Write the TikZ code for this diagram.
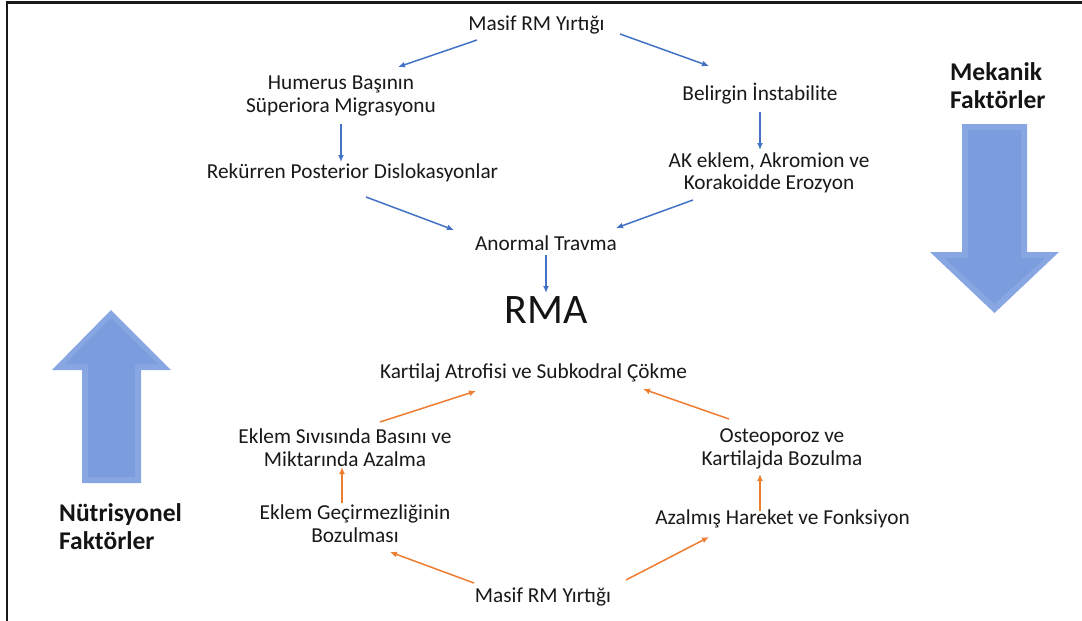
\documentclass[tikz,border=0pt]{standalone}
\usepackage{fontspec}
\setmainfont{Carlito}
\usetikzlibrary{calc,arrows.meta}
\definecolor{bl}{HTML}{4472C4}
\definecolor{orng}{HTML}{ED7D31}
\definecolor{bigout}{HTML}{87A6E2}
\definecolor{bigin}{HTML}{7C9DDD}
\tikzset{
  txt/.style={inner sep=0pt, font=\fontsize{21.3}{22.5}\selectfont, align=center, text=black!90},
  big/.style={inner sep=0pt, font=\fontsize{25.5}{28}\selectfont\bfseries, align=left, text=black!92},
  barr/.style={draw=bl, line width=1.5pt, -{Latex[length=7pt,width=6pt]}},
  oarr/.style={draw=orng, line width=1.5pt, -{Latex[length=7pt,width=6pt]}},
}
\begin{document}
\begin{tikzpicture}[x=1pt,y=-1pt]
\useasboundingbox (0,0) rectangle (1082,621);
\fill[white] (0,0) rectangle (1082,621);
% frame
\draw[line width=2.5pt, black!90] (7,621) -- (7,2.5) -- (1082,2.5);

% big arrows
\fill[bigout] (962,124) -- (1027,124) -- (1027,252) -- (1059,252) -- (994.5,313) -- (930,252) -- (962,252) -- cycle;
\fill[bigin] (968,130) -- (1021,130) -- (1021,258) -- (1045,258) -- (994.5,304) -- (944,258) -- (968,258) -- cycle;
\fill[bigout] (111,310) -- (171,370) -- (141,370) -- (141,483) -- (82,483) -- (82,370) -- (52,370) -- cycle;
\fill[bigin] (111,318) -- (158,364) -- (135,364) -- (135,477) -- (88,477) -- (88,364) -- (65,364) -- cycle;

% nodes
\node[txt, anchor=base] (m1) at (536.5,30) {Masif RM Yırtığı};
\node[txt, anchor=center] (hum) at (341,95.75) {Humerus Başının\\Süperiora Migrasyonu};
\node[txt, anchor=base] (rek) at (352.5,178) {Rekürren Posterior Dislokasyonlar};
\node[txt, anchor=base] (bel) at (760,100) {Belirgin İnstabilite};
\node[txt, anchor=center] (ak) at (769,172.75) {AK eklem, Akromion ve\\Korakoidde Erozyon};
\node[txt, anchor=base] (ano) at (546,250) {Anormal Travma};
\node[inner sep=0pt, font=\fontsize{42}{46}\selectfont, anchor=base, text=black!92] (rma) at (546.5,323) {RMA};
\node[txt, anchor=base] (kar) at (533.5,378) {Kartilaj Atrofisi ve Subkodral Çökme};
\node[txt, anchor=center] (eks) at (345,447.75) {Eklem Sıvısında Basını ve\\Miktarında Azalma};
\node[txt, anchor=center] (ekg) at (355,523.75) {Eklem Geçirmezliğinin\\Bozulması};
\node[txt, anchor=base] (m2) at (543,602) {Masif RM Yırtığı};
\node[txt, anchor=center] (ost) at (782,448.75) {Osteoporoz ve\\Kartilajda Bozulma};
\node[txt, anchor=base] (aza) at (782.5,524) {Azalmış Hareket ve Fonksiyon};
\node[big, anchor=west] (mek) at (950,86) {Mekanik\\Faktörler};
\node[big, anchor=west] (nut) at (59,527) {Nütrisyonel\\Faktörler};

% blue connectors
\draw[barr] ($(m1.base)+(-59.5,10)$) -- ($(hum.center)+(57,-28.75)$);
\draw[barr] ($(m1.base)+(83.5,4)$) -- ($(bel.base)+(-51,-34)$);
\draw[barr] ($(hum.center)+(0,28.25)$) -- ($(rek.base)+(-11.5,-16)$);
\draw[barr] ($(bel.base)+(0,12)$) -- ($(ak.center)+(-9,-22.75)$);
\draw[barr] ($(rek.base)+(13.5,19)$) -- ($(ano.base)+(-92,-20)$);
\draw[barr] ($(ak.center)+(-76,27.25)$) -- ($(ano.base)+(70,-22)$);
\draw[barr] ($(ano.base)+(0,5)$) -- ($(rma.base)+(-0.5,-30)$);

% orange connectors
\draw[oarr] ($(m2.base)+(-69,-19)$) -- ($(ekg.center)+(35,28.25)$);
\draw[oarr] ($(m2.base)+(83,-22)$) -- ($(aza.base)+(-73.5,13)$);
\draw[oarr] ($(ekg.center)+(-13,-20.75)$) -- ($(eks.center)+(-3,19.25)$);
\draw[oarr] ($(aza.base)+(-22.5,-13)$) -- ($(ost.center)+(-22,25.25)$);
\draw[oarr] ($(eks.center)+(35,-25.75)$) -- ($(kar.base)+(-57.5,13)$);
\draw[oarr] ($(ost.center)+(-53,-29.75)$) -- ($(kar.base)+(109.5,11)$);
\end{tikzpicture}
\end{document}
